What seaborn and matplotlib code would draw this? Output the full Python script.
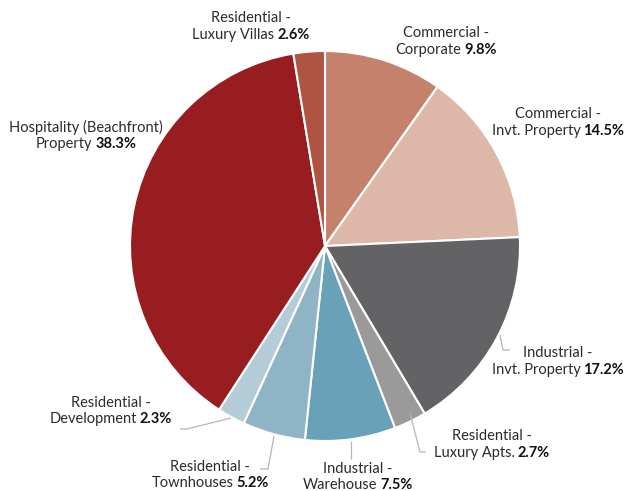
import matplotlib
matplotlib.use("Agg")
import matplotlib.pyplot as plt
import seaborn as sns

sns.set_theme(style="white")
plt.rcParams['font.family'] = ['Lato', 'DejaVu Sans']

# ---- data ----
cat_line1 = ["Commercial -", "Commercial -", "Industrial -", "Residential -", "Industrial -",
             "Residential -", "Residential -", "Hospitality (Beachfront)", "Residential -"]
cat_line2 = ["Corporate", "Invt. Property", "Invt. Property", "Luxury Apts.", "Warehouse",
             "Townhouses", "Development", "Property", "Luxury Villas"]
shares = [9.8, 14.5, 17.2, 2.7, 7.5, 5.2, 2.3, 38.3, 2.6]
colors = ["#C4826D", "#DDB8A9", "#636365", "#9A9A9B", "#68A1B8",
          "#8EB4C6", "#B4CCD8", "#981D21", "#AE5443"]

W, H = 626, 491
fig = plt.figure(figsize=(W / 100, H / 100), dpi=100)
ax = fig.add_axes([0, 0, 1, 1])

def Y(y):
    return H - y

cx, cy, R = 325, Y(246), 195
ax.pie(shares, colors=colors, startangle=90, counterclock=False,
       center=(cx, cy), radius=R,
       wedgeprops=dict(edgecolor="white", linewidth=1.5))
ax.set_xlim(0, W)
ax.set_ylim(0, H)
ax.set_aspect("equal")
ax.axis("off")

# label centres (image px) for each slice: (x centre, y of line1, y of line2)
label_pos = [(446, 33, 50), (558, 114, 131), (558, 353, 370), (492, 436, 453),
             (358, 469, 485), (210, 467, 483), (111, 403, 419), (86, 127, 144),
             (251, 18, 35)]

# leader lines (image px) for small/lower slices
leaders = {
    2: [(500, 335), (503, 350), (510, 350)],
    3: [(410, 413), (420, 452), (426, 452)],
    4: [(351, 441), (351, 459)],
    5: [(274, 436), (268, 469), (260, 469)],
    6: [(231, 418), (187, 429), (180, 429)],
}
for i, pts in leaders.items():
    ax.plot([p[0] for p in pts], [Y(p[1]) for p in pts], color="#b5b5b5", lw=0.9,
            solid_capstyle="butt")

fs = 10.5
txtc = "#2b2b2b"
fig.canvas.draw()
renderer = fig.canvas.get_renderer()
for i in range(len(shares)):
    x, y1, y2 = label_pos[i]
    ax.text(x, Y(y1), cat_line1[i], ha="center", va="center", fontsize=fs, color=txtc)
    t1 = ax.text(0, Y(y2), cat_line2[i], ha="left", va="center", fontsize=fs, color=txtc)
    t2 = ax.text(0, Y(y2), f"{shares[i]}%", ha="left", va="center", fontsize=fs,
                 color="#111111", fontweight="bold")
    w1 = t1.get_window_extent(renderer).width
    w2 = t2.get_window_extent(renderer).width
    gap = 3
    total = w1 + gap + w2
    left = x - total / 2
    t1.set_x(left)
    t2.set_x(left + w1 + gap)

fig.savefig("out.png", dpi=100)
